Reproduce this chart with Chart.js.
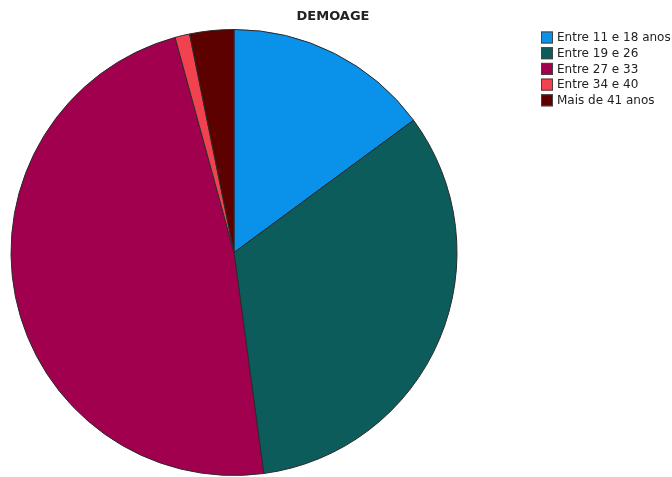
<!DOCTYPE html>
<html>
<head>
<meta charset="utf-8">
<script src="https://cdn.jsdelivr.net/npm/chart.js@4/dist/chart.umd.min.js"></script>
<style>
  html, body { margin: 0; padding: 0; background: #fff; }
  #wrap { width: 672px; height: 477px; }
</style>
</head>
<body>
<div id="wrap"><canvas id="myChart" width="672" height="477"></canvas></div>
<script>
// age groups and respondent counts
const ageGroups = ['Entre 11 e 18 anos', 'Entre 19 e 26', 'Entre 27 e 33', 'Entre 34 e 40', 'Mais de 41 anos'];
const counts = [14, 31, 45, 1, 3];
const sliceColors = ['#0a92ea', '#0c5c5c', '#a1004f', '#f2414f', '#5c0000'];
const chartTitle = 'DEMOAGE';

// title and legend drawn by hand so the pie keeps its place on the left
const sideLegend = {
  id: 'sideLegend',
  afterDraw(chart) {
    const ctx = chart.ctx;
    ctx.save();
    ctx.fillStyle = '#222';
    ctx.font = 'bold 13px "DejaVu Sans", sans-serif';
    ctx.textAlign = 'center';
    ctx.textBaseline = 'middle';
    ctx.fillText(chartTitle, 333, 17);

    ctx.font = '12px "DejaVu Sans", sans-serif';
    ctx.textAlign = 'left';
    chart.data.labels.forEach((label, i) => {
      const y = 37.5 + i * 15.7;
      ctx.fillStyle = chart.data.datasets[0].backgroundColor[i];
      ctx.fillRect(541, y - 6, 12, 12);
      ctx.strokeStyle = '#444';
      ctx.lineWidth = 1;
      ctx.strokeRect(541.5, y - 5.5, 11, 11);
      ctx.fillStyle = '#222';
      ctx.fillText(label, 557, y + 0.5);
    });
    ctx.restore();
  }
};

const chart = new Chart(document.getElementById('myChart'), {
  type: 'pie',
  data: {
    labels: ageGroups,
    datasets: [{
      data: counts,
      backgroundColor: sliceColors,
      borderColor: '#2a2a2a',
      borderWidth: 1
    }]
  },
  options: {
    responsive: false,
    animation: false,
    layout: { padding: { left: 10, right: 214, top: 29, bottom: 1 } },
    plugins: {
      legend: { display: false },
      title: { display: false },
      tooltip: { enabled: false }
    }
  },
  plugins: [sideLegend]
});
</script>
</body>
</html>
